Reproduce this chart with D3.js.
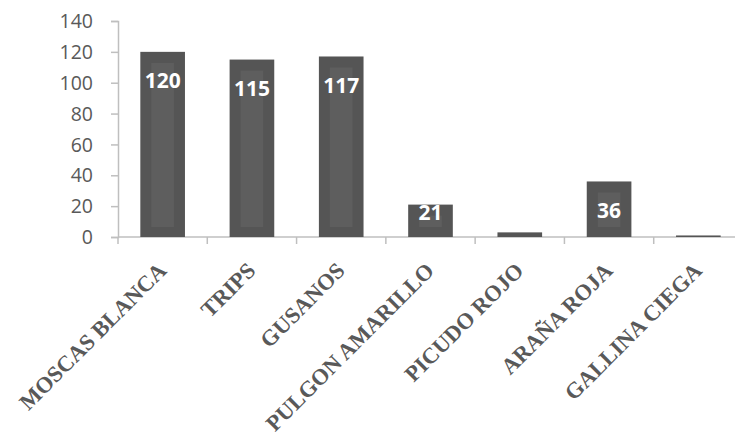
<!DOCTYPE html>
<html><head><meta charset="utf-8">
<script src="https://cdn.jsdelivr.net/npm/d3@7"></script>
<style>body{margin:0;background:#fff}svg{display:block}</style>
</head><body>
<svg id="c" width="735" height="436"></svg>
<script>
const categories = ["MOSCAS BLANCA","TRIPS","GUSANOS","PULGON AMARILLO","PICUDO ROJO","ARAÑA ROJA","GALLINA CIEGA"];
const values = [120,115,117,21,3,36,1];
const labels = ["120","115","117","21","","36",""];
const yTicks = [0,20,40,60,80,100,120,140];

const svg = d3.select("#c");
const x0 = 118, x1 = 743, yBottom = 237, yTop = 21;
const x = d3.scaleBand().domain(categories).range([x0,x1]).paddingInner(0.5).paddingOuter(0.25);
const y = d3.scaleLinear().domain([0,140]).range([yBottom,yTop]);
const axisColor = "#bfbfbf", textColor = "#595959";

// y axis
const ya = svg.append("g").attr("transform",`translate(${x0},0)`)
  .call(d3.axisLeft(y).tickValues(yTicks).tickSize(7).tickPadding(18).tickFormat(d3.format("d")));
ya.select(".domain").attr("stroke",axisColor).attr("stroke-width",1.5);
ya.selectAll(".tick line").attr("stroke",axisColor).attr("stroke-width",1.5);
ya.selectAll(".tick text").attr("fill",textColor).attr("font-family","'Open Sans', sans-serif").attr("font-size",19.5).attr("dy","0.34em");

// x axis line and ticks at boundaries
svg.append("line").attr("x1",x0).attr("x2",x1).attr("y1",y(0)).attr("y2",y(0)).attr("stroke",axisColor).attr("stroke-width",1.5);
const step = x.step();
const bounds = d3.range(categories.length+1).map(i => x0 + i*step);
svg.selectAll(".xt").data(bounds).enter().append("line")
  .attr("x1",d=>d).attr("x2",d=>d).attr("y1",y(0)).attr("y2",y(0)+7)
  .attr("stroke",axisColor).attr("stroke-width",1.5);

// bars
const bw = x.bandwidth();
const g = svg.selectAll(".bar").data(categories).enter().append("g");
g.append("rect").attr("x",d=>x(d)).attr("y",(d,i)=>y(values[i])).attr("width",bw)
  .attr("height",(d,i)=>y(0)-y(values[i])).attr("fill","#555555");
g.append("rect").attr("x",d=>x(d)+11).attr("width",bw-22)
  .attr("y",(d,i)=>y(values[i])+11)
  .attr("height",(d,i)=>Math.max(0,y(0)-y(values[i])-21))
  .attr("fill","#5e5e5e");

// value labels
g.append("text").text((d,i)=>labels[i])
  .attr("x",d=>x(d)+bw/2)
  .attr("y",(d,i)=>Math.min(y(values[i])+29, y(0)-25))
  .attr("dy","0.36em").attr("text-anchor","middle")
  .attr("fill","#ffffff").attr("font-family","'Open Sans', sans-serif").attr("font-weight","bold").attr("font-size",21);

// category labels
svg.selectAll(".cl").data(categories).enter().append("text")
  .text(d=>d)
  .attr("transform",d=>`translate(${x(d)+bw/2+5},272) rotate(-45)`)
  .attr("text-anchor","end").attr("fill",textColor)
  .attr("font-family","'Liberation Serif', 'Times New Roman', serif").attr("font-weight","bold").attr("font-size",22.5);
</script>
</body></html>
